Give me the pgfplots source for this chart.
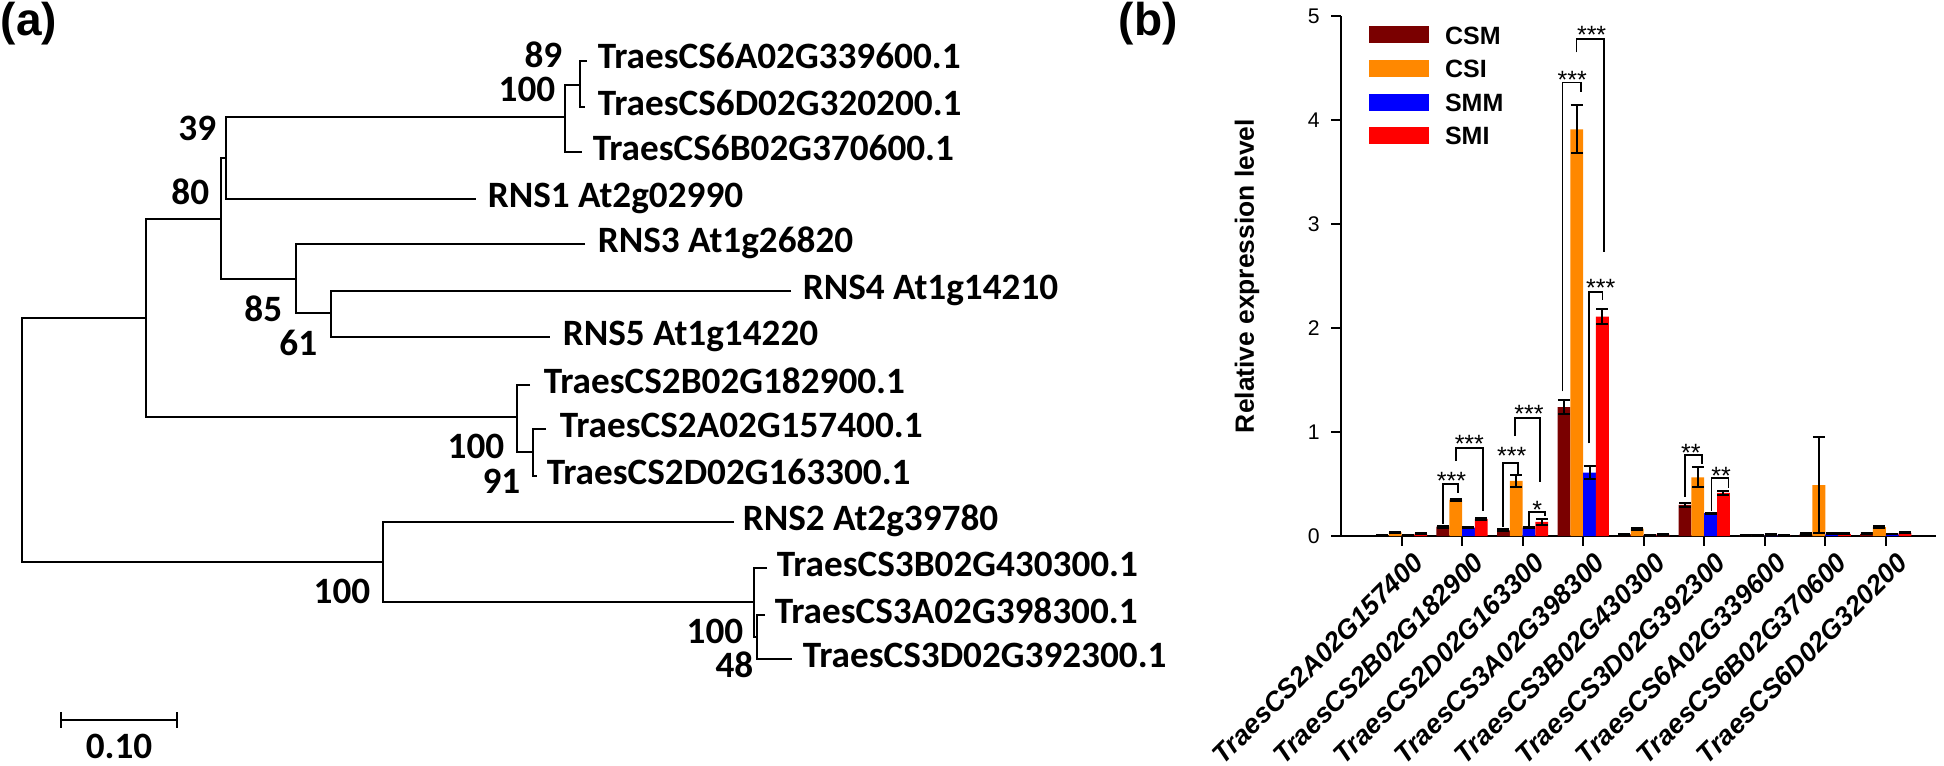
\documentclass[border=0pt]{standalone}
\usepackage{pgfplots}
\pgfplotsset{compat=1.18}
\usepackage{pgfplotstable}
\usepackage{fontspec}
\setmainfont{Liberation Sans}
\newfontfamily\treefont{Carlito}
\definecolor{csm}{RGB}{122,0,0}
\definecolor{csi}{RGB}{255,136,0}
\definecolor{smm}{RGB}{0,0,255}
\definecolor{smi}{RGB}{255,0,0}

\pgfplotstableread{
g csm csme csi csie smm smme smi smie
1 0.005 0.003 0.035 0.006 0.005 0.003 0.020 0.005
2 0.090 0.010 0.350 0.010 0.080 0.005 0.165 0.012
3 0.055 0.010 0.530 0.060 0.080 0.006 0.135 0.025
4 1.240 0.070 3.910 0.230 0.610 0.060 2.110 0.075
5 0.015 0.005 0.070 0.010 0.008 0.004 0.015 0.005
6 0.300 0.020 0.565 0.095 0.220 0.006 0.415 0.020
7 0.004 0.002 0.006 0.003 0.012 0.003 0.006 0.003
8 0.020 0.006 0.490 0.460 0.020 0.005 0.020 0.005
9 0.020 0.005 0.085 0.008 0.020 0.004 0.030 0.005
}\bardata

\tikzset{tl/.style={anchor=base west, inner sep=0pt, font=\treefont\bfseries\fontsize{9.3}{10}\selectfont},
         bl/.style={anchor=base east, inner sep=0pt, font=\treefont\bfseries\fontsize{9.3}{10}\selectfont},
         st/.style={anchor=base, inner sep=0pt, font=\fontsize{6.25}{7}\selectfont}}

\begin{document}
\begin{tikzpicture}
\useasboundingbox (0,0) rectangle (486pt,191.25pt);
% ---------------- (a) tree ----------------
\begin{axis}[at={(0pt,0pt)}, anchor=south west, width=486pt, height=191.25pt, scale only axis,
  xmin=0, xmax=1944, ymin=0, ymax=765, y dir=reverse, hide axis, clip=false,
  tr/.style={black, solid, line width=0.5pt, mark=none}]
\addplot[tr] coordinates {(146,318) (22,318) (22,562) (383,562)};
\addplot[tr] coordinates {(221,219) (146,219) (146,417) (517,417)};
\addplot[tr] coordinates {(226,158) (221,158) (221,279) (296,279)};
\addplot[tr] coordinates {(565,117) (226,117) (226,199) (476,199)};
\addplot[tr] coordinates {(580,85) (565,85) (565,152) (582,152)};
\addplot[tr] coordinates {(587,61) (580,61) (580,107) (585,107)};
\addplot[tr] coordinates {(585,244) (296,244) (296,313) (331,313)};
\addplot[tr] coordinates {(791,291) (331,291) (331,337) (550,337)};
\addplot[tr] coordinates {(530,385) (517,385) (517,452) (533,452)};
\addplot[tr] coordinates {(546,429) (533,429) (533,476) (537,476)};
\addplot[tr] coordinates {(734,522) (383,522) (383,602) (754,602)};
\addplot[tr] coordinates {(767,568) (754,568) (754,637) (757,637)};
\addplot[tr] coordinates {(765,615) (757,615) (757,659) (792,659)};
% scale bar
\addplot[tr] coordinates {(61,712) (61,728)};
\addplot[tr] coordinates {(61,720) (177,720)};
\addplot[tr] coordinates {(177,712) (177,728)};
% tip labels
\node[tl] at (axis cs:597,68) {TraesCS6A02G339600.1};
\node[tl] at (axis cs:597,115) {TraesCS6D02G320200.1};
\node[tl] at (axis cs:592,160) {TraesCS6B02G370600.1};
\node[tl] at (axis cs:487,207) {RNS1 At2g02990};
\node[tl] at (axis cs:597,252) {RNS3 At1g26820};
\node[tl] at (axis cs:802,299) {RNS4 At1g14210};
\node[tl] at (axis cs:562,345) {RNS5 At1g14220};
\node[tl] at (axis cs:543,393) {TraesCS2B02G182900.1};
\node[tl] at (axis cs:559,437) {TraesCS2A02G157400.1};
\node[tl] at (axis cs:546,484) {TraesCS2D02G163300.1};
\node[tl] at (axis cs:742,530) {RNS2 At2g39780};
\node[tl] at (axis cs:776,576) {TraesCS3B02G430300.1};
\node[tl] at (axis cs:774,623) {TraesCS3A02G398300.1};
\node[tl] at (axis cs:802,667) {TraesCS3D02G392300.1};
% bootstrap labels
\node[bl] at (axis cs:563,67) {89};
\node[bl] at (axis cs:556,101) {100};
\node[bl] at (axis cs:217,140) {39};
\node[bl] at (axis cs:210,204) {80};
\node[bl] at (axis cs:283,321) {85};
\node[bl] at (axis cs:318,355) {61};
\node[bl] at (axis cs:505,458) {100};
\node[bl] at (axis cs:521,493) {91};
\node[bl] at (axis cs:371,603) {100};
\node[bl] at (axis cs:744,643) {100};
\node[bl] at (axis cs:754,677) {48};
\node[anchor=base, inner sep=0pt, font=\treefont\bfseries\fontsize{9.3}{10}\selectfont] at (axis cs:119,758) {0.10};
% panel letters
\node[anchor=north west, inner sep=0pt, font=\bfseries\fontsize{11.5}{12}\selectfont] at (axis cs:0,1) {(a)};
\node[anchor=north west, inner sep=0pt, font=\bfseries\fontsize{11.5}{12}\selectfont] at (axis cs:1118,1) {(b)};
\end{axis}
% ---------------- (b) bar chart ----------------
\begin{axis}[at={(335.25pt,57.25pt)}, anchor=south west, width=148.75pt, height=130pt, scale only axis,
  xmin=0, xmax=9.83, ymin=0, ymax=5, clip=false,
  axis x line*=bottom, axis y line*=left,
  axis line style={line width=0.5pt, black},
  tick align=outside, major tick length=2.4pt,
  tick style={line width=0.5pt, black},
  xtick={1,...,9}, ytick={0,...,5},
  xticklabels={TraesCS2A02G157400,TraesCS2B02G182900,TraesCS2D02G163300,TraesCS3A02G398300,TraesCS3B02G430300,TraesCS3D02G392300,TraesCS6A02G339600,TraesCS6B02G370600,TraesCS6D02G320200},
  xticklabel style={xshift=2.5pt, yshift=-1.1pt, rotate=45, anchor=north east, inner sep=0pt, font=\bfseries\itshape\fontsize{6.75}{7}\selectfont},
  yticklabel style={anchor=east, inner sep=0pt, xshift=-2.75pt, font=\fontsize{5.3}{6}\selectfont},
  /pgf/number format/assume math mode=true,
  ylabel={Relative expression level},
  ylabel style={at={(axis description cs:-0.158,0.5)}, anchor=center, font=\bfseries\fontsize{6.6}{7}\selectfont},
  legend image code/.code={\fill[#1] (0pt,-2.1pt) rectangle (15pt,2.15pt);},
  legend style={draw=none, fill=none, at={(0,1)}, anchor=north west, xshift=7pt, yshift=-2.5pt,
     inner sep=0pt, outer sep=0pt, row sep=3.9pt, column sep=4pt,
     font=\bfseries\fontsize{6.25}{7}\selectfont, nodes={inner sep=0pt, text height=4.5pt, text depth=0pt}},
  legend cell align=left,
]
\addlegendimage{fill=csm, draw=none}
\addlegendimage{fill=csi, draw=none}
\addlegendimage{fill=smm, draw=none}
\addlegendimage{fill=smi, draw=none}
\pgfplotsset{bars/.style={ybar, bar width=3.2pt, bar shift=0pt, draw=none, forget plot,
   error bars/.cd, y dir=both, y explicit, error bar style={black, line width=0.5pt},
   error mark options={rotate=90, black, line width=0.5pt, mark size=1.5pt}}}
\addplot[fill=csm, bars] table[x expr=\thisrow{g}-0.3174, y=csm, y error=csme]{\bardata};
\addplot[fill=csi, bars] table[x expr=\thisrow{g}-0.1058, y=csi, y error=csie]{\bardata};
\addplot[fill=smm, bars] table[x expr=\thisrow{g}+0.1058, y=smm, y error=smme]{\bardata};
\addplot[fill=smi, bars] table[x expr=\thisrow{g}+0.3174, y=smi, y error=smie]{\bardata};
\legend{CSM,CSI,SMM,SMI}
% significance brackets
\pgfplotsset{br/.style={black, solid, mark=none, line width=0.45pt, forget plot}}
\addplot[br] coordinates {(1.68,0.12) (1.68,0.50) (1.93,0.50) (1.93,0.41)};
\addplot[br] coordinates {(1.90,0.72) (1.90,0.85) (2.34,0.85) (2.34,0.24)};
\addplot[br] coordinates {(2.68,0.086) (2.68,0.705) (2.93,0.705) (2.93,0.60)};
\addplot[br] coordinates {(2.87,0.96) (2.87,1.134) (3.29,1.134) (3.29,0.515)};
\addplot[br] coordinates {(3.11,0.10) (3.11,0.23) (3.37,0.23) (3.37,0.19)};
\addplot[br] coordinates {(3.66,1.39) (3.66,4.36) (3.96,4.36) (3.96,4.27)};
\addplot[br] coordinates {(3.89,4.65) (3.89,4.78) (4.34,4.78) (4.34,2.73)};
\addplot[br] coordinates {(4.10,0.89) (4.10,2.35) (4.32,2.35) (4.32,2.27)};
\addplot[br] coordinates {(5.68,0.38) (5.68,0.78) (5.97,0.78) (5.97,0.69)};
\addplot[br] coordinates {(6.12,0.24) (6.12,0.557) (6.40,0.557) (6.40,0.46)};
\node[st] at (axis cs:1.825,0.45) {***};
\node[st] at (axis cs:2.12,0.805) {***};
\node[st] at (axis cs:2.82,0.685) {***};
\node[st] at (axis cs:3.105,1.087) {***};
\node[st] at (axis cs:3.24,0.17) {*};
\node[st] at (axis cs:3.82,4.30) {***};
\node[st] at (axis cs:4.14,4.74) {***};
\node[st] at (axis cs:4.29,2.30) {***};
\node[st] at (axis cs:5.78,0.72) {**};
\node[st] at (axis cs:6.28,0.496) {**};
\end{axis}
\end{tikzpicture}
\end{document}
